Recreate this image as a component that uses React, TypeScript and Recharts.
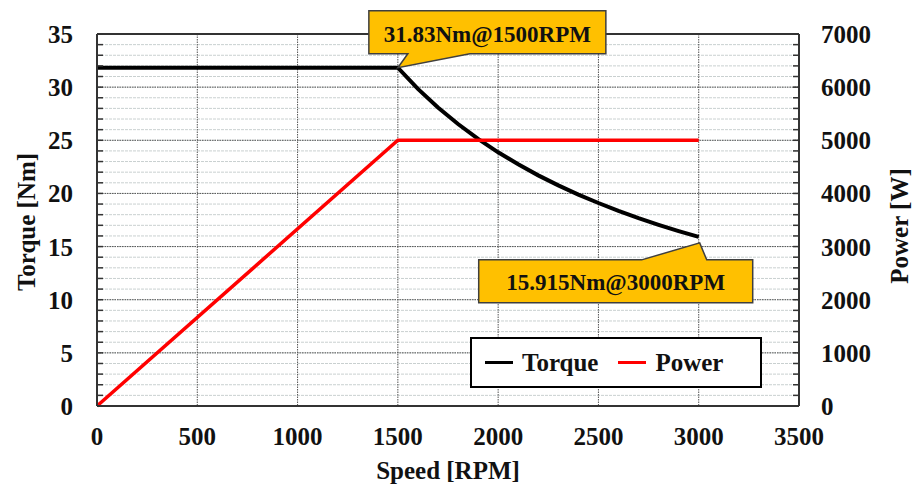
import React from 'react'
import {
  ComposedChart,
  Line,
  XAxis,
  YAxis,
  CartesianGrid,
  ReferenceLine,
  ReferenceDot,
  Legend,
} from 'recharts'

// speed axis (RPM)
const speedTicks = [0, 500, 1000, 1500, 2000, 2500, 3000, 3500]
// torque axis: every Nm gets a minor tick, labels every 5
const torqueTicks = [
  0, 1, 2, 3, 4, 5, 6, 7, 8, 9, 10, 11, 12, 13, 14, 15, 16, 17, 18, 19, 20,
  21, 22, 23, 24, 25, 26, 27, 28, 29, 30, 31, 32, 33, 34, 35,
]
const torqueMajor = [5, 10, 15, 20, 25, 30]
// power axis: minor tick every 200 W, labels every 1000
const powerTicks = [
  0, 200, 400, 600, 800, 1000, 1200, 1400, 1600, 1800, 2000, 2200, 2400, 2600,
  2800, 3000, 3200, 3400, 3600, 3800, 4000, 4200, 4400, 4600, 4800, 5000, 5200,
  5400, 5600, 5800, 6000, 6200, 6400, 6600, 6800, 7000,
]

// curves
const rpm = [0, 1500, 1600, 1700, 1800, 1900, 2000, 2100, 2200, 2300, 2400, 2500, 2600, 2700, 2800, 2900, 3000]
const torque = [31.83, 31.83, 29.84, 28.09, 26.53, 25.13, 23.87, 22.74, 21.7, 20.76, 19.89, 19.1, 18.36, 17.68, 17.05, 16.46, 15.915]
const power = [0, 5000, null, null, null, null, null, null, null, null, null, null, null, null, null, null, 5000]

const seriesNames = ['Torque', 'Power']

const callouts = [
  { rpm: 1500, torque: 31.83, text: '31.83Nm@1500RPM', side: 'top' },
  { rpm: 3000, torque: 15.915, text: '15.915Nm@3000RPM', side: 'bottom' },
]

const chartData = rpm.map((r, i) => ({ rpm: r, torque: torque[i], power: power[i] }))

const FONT = '"Liberation Serif", "Times New Roman", serif'
const AXIS = '#333333'
const PLOT_LEFT = 97
const PLOT_RIGHT = 799

const TorqueTick = ({ x, y, payload }: any) => {
  const v = payload.value
  return (
    <g>
      <line x1={x} x2={x + 6} y1={y} y2={y} stroke={AXIS} strokeWidth={1.5} />
      {v % 5 === 0 && (
        <text x={x - 24} y={y + 9} textAnchor="end" style={styles.tickText}>
          {v}
        </text>
      )}
    </g>
  )
}

const PowerTick = ({ x, y, payload }: any) => {
  const v = payload.value
  return (
    <g>
      <line x1={x - 6} x2={x} y1={y} y2={y} stroke={AXIS} strokeWidth={1.5} />
      {v % 1000 === 0 && (
        <text x={x + 22} y={y + 9} textAnchor="start" style={styles.tickText}>
          {v}
        </text>
      )}
    </g>
  )
}

const SpeedTick = ({ x, y, payload }: any) => (
  <text x={x} y={y + 39} textAnchor="middle" style={styles.tickText}>
    {payload.value}
  </text>
)

const Callout = ({ cx, cy, text, side }: any) => {
  let d = ''
  let tx = 0
  let ty = 0
  if (side === 'top') {
    const l = cx - 29
    const r = cx + 208
    const t = cy - 57
    const b = cy - 14
    d = `M${l},${t} H${r} V${b} H${cx + 72} L${cx},${cy} L${cx + 10},${b} H${l} Z`
    tx = (l + r) / 2
    ty = t + 31
  } else {
    const l = cx - 220
    const r = cx + 54
    const t = cy + 23
    const b = cy + 66
    d = `M${l},${t} H${cx - 57} L${cx + 1},${cy + 6} L${cx + 8},${t} H${r} V${b} H${l} Z`
    tx = (l + r) / 2
    ty = t + 30
  }
  return (
    <g>
      <path d={d} fill="#FFC000" stroke="#3f3f3f" strokeWidth={1.5} />
      <text x={tx} y={ty} textAnchor="middle" style={styles.calloutText}>
        {text}
      </text>
    </g>
  )
}

const LegendBox = ({ payload }: any) => {
  const items = [...(payload || [])].sort(
    (a: any, b: any) => seriesNames.indexOf(a.value) - seriesNames.indexOf(b.value)
  )
  return (
    <div style={styles.legendBox}>
      {items.map((item: any, i: number) => (
        <div key={item.value} style={{ ...styles.legendItem, marginLeft: i === 0 ? 0 : 20 }}>
          <span style={{ ...styles.legendLine, background: item.color }} />
          <span style={styles.legendText}>{item.value}</span>
        </div>
      ))}
    </div>
  )
}

export default function App() {
  return (
    <div style={styles.page}>
      <ComposedChart
        width={914}
        height={490}
        data={chartData}
        margin={{ top: 34, right: 0, bottom: 44, left: 0 }}
      >
        <CartesianGrid
          yAxisId="t"
          vertical={false}
          stroke="#c9d0d0"
          strokeDasharray="3 1"
        />
        <CartesianGrid
          yAxisId="t"
          horizontal={false}
          stroke="#555555"
          strokeDasharray="1.5 1"
        />
        <XAxis
          dataKey="rpm"
          type="number"
          domain={[0, 3500]}
          ticks={speedTicks}
          interval={0}
          height={40}
          tickSize={0}
          tickMargin={0}
          tickLine={false}
          axisLine={{ stroke: AXIS, strokeWidth: 2 }}
          tick={<SpeedTick />}
          label={{
            value: 'Speed [RPM]',
            position: 'bottom',
            offset: 15,
            style: { ...styles.titleText, textAnchor: 'middle' },
          }}
        />
        <YAxis
          yAxisId="t"
          orientation="left"
          width={PLOT_LEFT}
          domain={[0, 35]}
          ticks={torqueTicks}
          interval={0}
          tickSize={0}
          tickMargin={0}
          tickLine={false}
          axisLine={{ stroke: AXIS, strokeWidth: 2 }}
          tick={<TorqueTick />}
          label={{
            value: 'Torque [Nm]',
            angle: -90,
            position: 'insideLeft',
            offset: 26,
            dy: 2,
            style: { ...styles.titleText, textAnchor: 'middle' },
          }}
        />
        <YAxis
          yAxisId="p"
          orientation="right"
          width={914 - PLOT_RIGHT}
          domain={[0, 7000]}
          ticks={powerTicks}
          interval={0}
          tickSize={0}
          tickMargin={0}
          tickLine={false}
          axisLine={{ stroke: AXIS, strokeWidth: 2 }}
          tick={<PowerTick />}
          label={{
            value: 'Power [W]',
            angle: -90,
            position: 'insideRight',
            offset: 15,
            dy: 6,
            style: { ...styles.titleText, textAnchor: 'middle' },
          }}
        />
        {torqueMajor.map((v) => (
          <ReferenceLine
            key={v}
            yAxisId="t"
            y={v}
            stroke="#555555"
            strokeDasharray="1.5 1"
          />
        ))}
        <ReferenceLine yAxisId="t" y={35} stroke={AXIS} strokeWidth={2} />
        <Line
          yAxisId="t"
          type="linear"
          dataKey="torque"
          name="Torque"
          stroke="#000000"
          strokeWidth={4}
          dot={false}
          isAnimationActive={false}
        />
        <Line
          yAxisId="p"
          type="linear"
          dataKey="power"
          name="Power"
          stroke="#ff0000"
          strokeWidth={3.5}
          dot={false}
          connectNulls
          isAnimationActive={false}
        />
        {callouts.map((c) => (
          <ReferenceDot
            key={c.text}
            yAxisId="t"
            x={c.rpm}
            y={c.torque}
            r={0}
            ifOverflow="visible"
            shape={(p: any) => <Callout cx={p.cx} cy={p.cy} text={c.text} side={c.side} />}
          />
        ))}
        <Legend
          layout="horizontal"
          verticalAlign="middle"
          align="center"
          content={<LegendBox />}
          wrapperStyle={{ left: 470, top: 337, width: 292, height: 51 }}
        />
      </ComposedChart>
    </div>
  )
}

const styles: Record<string, React.CSSProperties> = {
  page: {
    position: 'absolute',
    left: 0,
    top: 0,
    width: 914,
    height: 490,
    background: '#ffffff',
  },
  tickText: {
    fontFamily: FONT,
    fontWeight: 700,
    fontSize: 25,
    fill: '#111111',
  },
  titleText: {
    fontFamily: FONT,
    fontWeight: 700,
    fontSize: 25,
    fill: '#111111',
  },
  calloutText: {
    fontFamily: FONT,
    fontWeight: 700,
    fontSize: 23,
    fill: '#111111',
  },
  legendBox: {
    boxSizing: 'border-box',
    width: 292,
    height: 51,
    border: '2px solid #000000',
    background: '#ffffff',
    display: 'flex',
    alignItems: 'center',
    paddingLeft: 13,
  },
  legendItem: {
    display: 'flex',
    alignItems: 'center',
  },
  legendLine: {
    display: 'inline-block',
    width: 28,
    height: 3,
    marginRight: 9,
  },
  legendText: {
    fontFamily: FONT,
    fontWeight: 700,
    fontSize: 25,
    color: '#111111',
    lineHeight: '25px',
  },
}
